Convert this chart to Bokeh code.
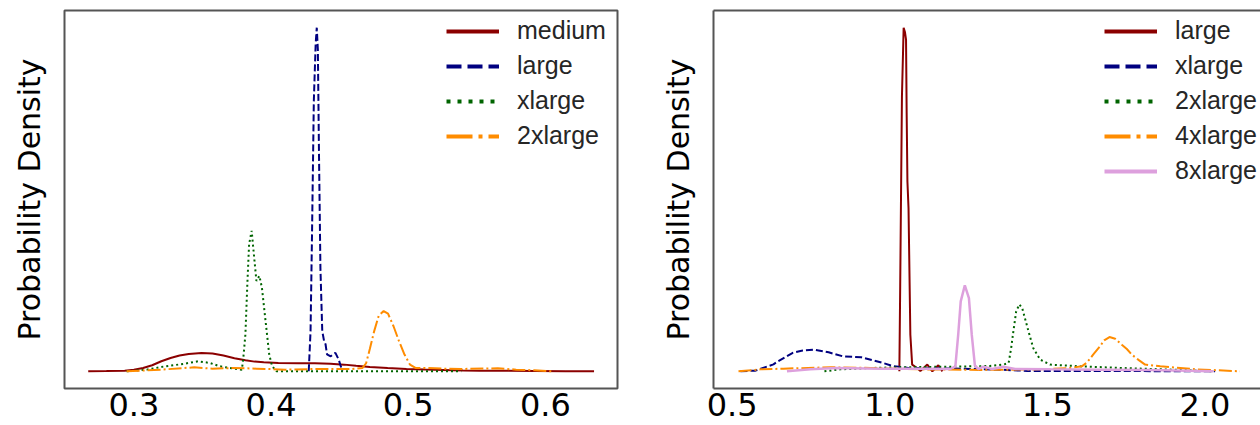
from bokeh.plotting import figure
from bokeh.models import Range1d, FixedTicker, Legend, LegendItem, LinearAxis
from bokeh.layouts import row
from bokeh.embed import file_html
from bokeh.resources import INLINE

# ---------------- data: left panel ----------------
left_ticks = [0.3, 0.4, 0.5, 0.6]
left_tick_labels = ["0.3", "0.4", "0.5", "0.6"]
left_names = ["medium", "large", "xlarge", "2xlarge"]

medium_x = [0.2667, 0.28, 0.2933, 0.3, 0.3067, 0.3133, 0.32, 0.3267, 0.3333, 0.34, 0.3493, 0.3573,
            0.3653, 0.3733, 0.3813, 0.388, 0.3947, 0.4053, 0.42, 0.432, 0.4433, 0.4533, 0.462, 0.472,
            0.485, 0.4987, 0.512, 0.5253, 0.54, 0.552, 0.57, 0.592, 0.615, 0.6355]
medium_y = [0.0, 0.1, 0.33, 0.8, 1.66, 3.0, 4.97, 6.6, 7.78, 8.6, 9.1, 8.8, 7.78, 6.5, 5.46, 4.8,
            4.47, 4.14, 4.05, 3.97, 3.7, 3.31, 2.75, 2.15, 1.6, 1.16, 0.85, 0.66, 0.45, 0.33, 0.25,
            0.17, 0.08, 0.0]

large_x = [0.42747, 0.4288, 0.42987, 0.4312, 0.43253, 0.43333, 0.43413, 0.43493, 0.436, 0.43733,
           0.43867, 0.43973, 0.4408, 0.44347, 0.44533, 0.44693, 0.44933, 0.452]
large_y = [0.0, 19.9, 67.9, 134.0, 162.0, 170.0, 159.0, 109.0, 51.0, 19.9, 14.9, 13.4, 8.4, 7.4,
           8.6, 9.1, 5.8, 0.0]

xlarge_x = [0.2947, 0.3093, 0.3227, 0.336, 0.3467, 0.3555, 0.3627, 0.3733, 0.3787, 0.3797, 0.3813,
            0.3827, 0.384, 0.38587, 0.38747, 0.38933, 0.39147, 0.39333, 0.396, 0.39867, 0.4008,
            0.404, 0.45, 0.5387]
xlarge_y = [0.0, 0.83, 2.48, 3.64, 4.97, 4.14, 2.48, 1.32, 0.83, 6.0, 18.2, 43.0, 62.9, 69.5, 57.9,
            44.7, 47.2, 41.4, 24.8, 8.3, 2.48, 0.0, 0.0, 0.0]

x2large_x = [0.2947, 0.32, 0.344, 0.3573, 0.3733, 0.3893, 0.4107, 0.432, 0.4587, 0.4667, 0.4693,
             0.472, 0.4752, 0.4785, 0.4821, 0.4853, 0.4893, 0.4933, 0.4973, 0.5013, 0.5053, 0.512,
             0.5253, 0.5387, 0.5653, 0.5787, 0.592, 0.6053]
x2large_y = [0.0, 0.83, 1.99, 1.32, 1.66, 1.32, 0.83, 1.16, 1.16, 1.66, 4.0, 11.0, 19.9, 27.5, 29.8,
             28.5, 22.3, 14.9, 8.3, 3.3, 1.66, 1.66, 1.32, 1.16, 1.5, 0.83, 0.5, 0.0]

# ---------------- data: right panel ----------------
right_ticks = [0.5, 1.0, 1.5, 2.0]
right_tick_labels = ["0.5", "1.0", "1.5", "2.0"]
right_names = ["large", "xlarge", "2xlarge", "4xlarge", "8xlarge"]

r_large_x = [1.0303, 1.033, 1.0385, 1.0439, 1.048, 1.0515, 1.0535, 1.0559, 1.0594, 1.0652, 1.0709,
             1.0864, 1.0969, 1.119, 1.135, 1.154, 1.167]
r_large_y = [0.0, 10.0, 32.0, 40.0, 39.5, 38.6, 30.0, 22.1, 19.0, 4.26, 0.78, 0.39, 0.05, 0.78, 0.0,
             0.7, 0.0]

r_xlarge_x = [0.5263, 0.5738, 0.6309, 0.6449, 0.6909, 0.72, 0.7599, 0.8059, 0.8521, 0.9096, 0.9672,
              1.0135, 1.0595, 1.16, 1.35, 1.436, 1.667, 2.032]
r_xlarge_y = [0.0, 0.08, 0.81, 1.16, 2.13, 2.4, 2.52, 2.21, 1.74, 1.63, 1.09, 0.58, 0.39, 0.35, 0.19,
              0.05, 0.04, 0.0]

r_2xlarge_x = [0.7926, 0.8433, 0.938, 1.033, 1.192, 1.318, 1.36, 1.377, 1.385, 1.392, 1.401, 1.411,
               1.420, 1.430, 1.440, 1.455, 1.477, 1.509, 1.604, 1.763, 1.921, 2.026]
r_2xlarge_y = [0.0, 0.23, 0.39, 0.47, 0.54, 0.62, 0.78, 0.97, 2.71, 4.65, 6.98, 7.79, 7.36, 6.01,
               4.65, 2.71, 1.36, 0.78, 0.58, 0.35, 0.16, 0.0]

r_4xlarge_x = [0.52, 0.5897, 0.6626, 0.8116, 0.9384, 1.0968, 1.287, 1.477, 1.572, 1.609, 1.625,
               1.645, 1.667, 1.68, 1.697, 1.715, 1.736, 1.752, 1.768, 1.79, 1.810, 1.858, 1.975,
               2.111]
r_4xlarge_y = [0.0, 0.23, 0.31, 0.47, 0.39, 0.23, 0.16, 0.23, 0.39, 0.58, 1.0, 1.94, 2.91, 3.6, 3.99,
               3.8, 3.10, 2.6, 1.94, 1.3, 0.78, 0.58, 0.23, 0.0]

r_8xlarge_x = [0.6737, 0.7482, 0.8306, 0.970, 1.097, 1.192, 1.208, 1.217, 1.225, 1.238, 1.251, 1.260,
               1.270, 1.281, 1.297, 1.325, 1.360, 1.398, 1.509, 1.667, 1.826, 2.026]
r_8xlarge_y = [0.0, 0.23, 0.39, 0.31, 0.31, 0.27, 0.58, 4.26, 8.14, 10.0, 8.53, 4.26, 0.66, 0.27,
               0.54, 0.27, 0.54, 0.27, 0.23, 0.19, 0.16, 0.0]

# ---------------- styles ----------------
DARKRED = "#8B0000"
NAVY = "#000080"
GREEN = "#006400"
ORANGE = "#FF8C00"
PLUM = "#DDA0DD"
FRAME = "#555555"

# (plot dash, legend dash)
SOLID = ("solid", "solid")
DASHED = ("7 3", "15 6")
DOTTED = ("2 3", "4 7")
DASHDOT = ("13 3 2 3", "26 6 4 6")


def make_fig(width, x0, x1, ymax, ticks, tick_labels, border_left, border_right, frame_by_axes):
    p = figure(width=width, height=425, output_backend="svg", toolbar_location=None,
               x_range=Range1d(x0, x1), y_range=Range1d(-0.05 * ymax, 1.05 * ymax),
               min_border_left=border_left, min_border_right=border_right,
               min_border_top=10, min_border_bottom=37)
    p.xgrid.visible = False
    p.ygrid.visible = False
    p.background_fill_color = "white"
    p.border_fill_color = "white"

    xa = p.xaxis[0]
    xa.ticker = FixedTicker(ticks=ticks)
    xa.major_label_overrides = {t: l for t, l in zip(ticks, tick_labels)}
    xa.major_label_text_font = "DejaVu Sans"
    xa.major_label_text_font_size = "32px"
    xa.major_label_text_color = "black"
    xa.major_label_standoff = 4
    xa.major_tick_in = 0
    xa.major_tick_out = 0
    xa.minor_tick_in = 0
    xa.minor_tick_out = 0

    ya = p.yaxis[0]
    ya.ticker = FixedTicker(ticks=[])
    ya.major_label_text_font_size = "0px"
    ya.major_tick_in = 0
    ya.major_tick_out = 0
    ya.minor_tick_in = 0
    ya.minor_tick_out = 0
    ya.axis_label = "Probability Density"
    ya.axis_label_text_font = "DejaVu Sans"
    ya.axis_label_text_font_size = "30px"
    ya.axis_label_text_font_style = "normal"
    ya.axis_label_text_color = "black"
    ya.axis_label_standoff = 18

    if frame_by_axes:
        p.outline_line_color = None
        for ax in (xa, ya):
            ax.axis_line_color = FRAME
            ax.axis_line_width = 2
        top = LinearAxis(ticker=FixedTicker(ticks=[]), major_label_text_font_size="0px",
                         major_tick_in=0, major_tick_out=0, minor_tick_in=0, minor_tick_out=0,
                         axis_line_color=FRAME, axis_line_width=2)
        p.add_layout(top, "above")
    else:
        xa.axis_line_color = None
        ya.axis_line_color = None
        p.outline_line_color = FRAME
        p.outline_line_width = 2
    return p


def add_series(p, xs, ys, color, dash, width=2):
    p.line(xs, ys, line_color=color, line_width=width, line_dash=dash[0], line_cap="butt")
    # hidden twin used only for the legend swatch (thicker stroke, as in the original legend)
    twin = p.line(xs, ys, line_color=color, line_width=4, line_dash=dash[1], line_cap="butt")
    twin.visible = False
    return twin


def add_legend(p, names, renderers, vx, vy):
    items = [LegendItem(label=n, renderers=[r]) for n, r in zip(names, renderers)]
    lg = Legend(items=items, location=(vx, vy), orientation="vertical",
                label_text_font="Liberation Sans", label_text_font_size="25px",
                label_text_color="#262626", glyph_width=53, glyph_height=28, label_height=28,
                label_standoff=18, spacing=6, padding=0, margin=0,
                border_line_color=None, background_fill_alpha=0,
                inactive_fill_alpha=0)
    p.add_layout(lg)


# ---------------- left panel ----------------
ymax_left = max(max(medium_y), max(large_y), max(xlarge_y), max(x2large_y))
p1 = make_fig(657, 0.2494, 0.6526, ymax_left, left_ticks, left_tick_labels, 64, 40, False)
lr = [
    add_series(p1, medium_x, medium_y, DARKRED, SOLID),
    add_series(p1, large_x, large_y, NAVY, DASHED),
    add_series(p1, xlarge_x, xlarge_y, GREEN, DOTTED),
    add_series(p1, x2large_x, x2large_y, ORANGE, DASHDOT),
]
add_legend(p1, left_names, lr, 382, 238)

# ---------------- right panel ----------------
ymax_right = max(max(r_large_y), max(r_xlarge_y), max(r_2xlarge_y), max(r_4xlarge_y), max(r_8xlarge_y))
p2 = make_fig(603, 0.4407, 2.176, ymax_right, right_ticks, right_tick_labels, 56, 0, True)
rr = [
    add_series(p2, r_large_x, r_large_y, DARKRED, SOLID),
    add_series(p2, r_xlarge_x, r_xlarge_y, NAVY, DASHED),
    add_series(p2, r_2xlarge_x, r_2xlarge_y, GREEN, DOTTED),
    add_series(p2, r_4xlarge_x, r_4xlarge_y, ORANGE, DASHDOT),
    add_series(p2, r_8xlarge_x, r_8xlarge_y, PLUM, SOLID, 2.5),
]
add_legend(p2, right_names, rr, 391, 203)

layout = row(p1, p2)
open("out.html", "w").write(file_html(layout, INLINE))
